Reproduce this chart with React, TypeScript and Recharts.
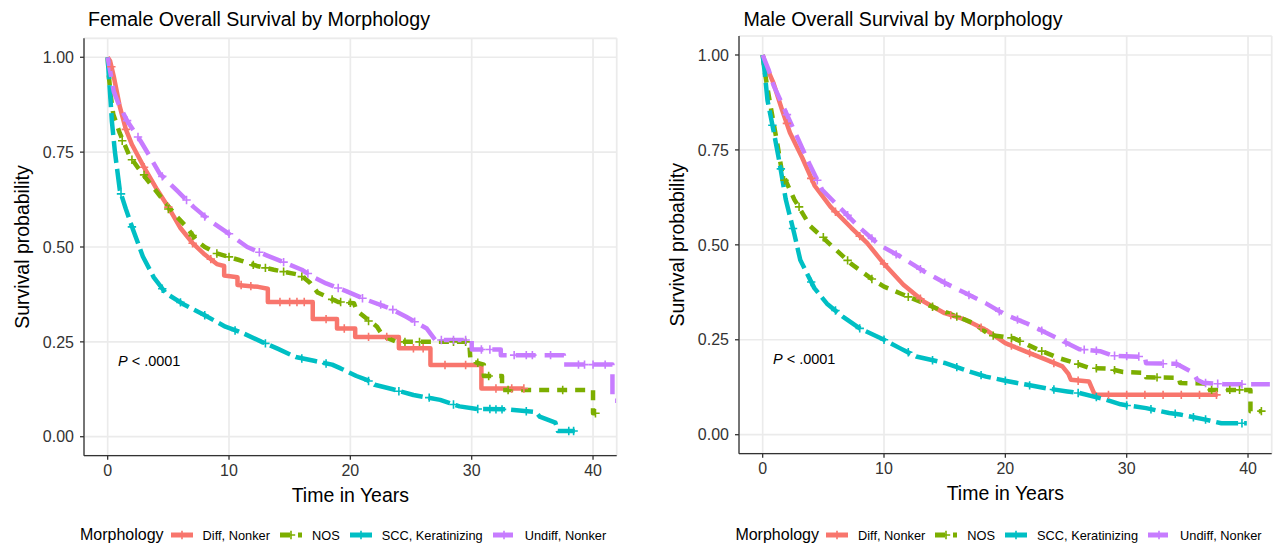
import React from 'react';
import {
  ComposedChart,
  Line,
  XAxis,
  YAxis,
  CartesianGrid,
  ReferenceDot,
  Label
} from 'recharts';

type Pt = [number, number];

const morphologies = ['Diff, Nonker', 'NOS', 'SCC, Keratinizing', 'Undiff, Nonker'];
const colors = ['#F8766D', '#7CAE00', '#00BFC4', '#C77CFF'];
const dashes = [undefined, '10 8', '22 6', '20 9'];

const xTicks = [0, 10, 20, 30, 40];
const xMinorTicks = [5, 15, 25, 35];
const yTicks = [0, 0.25, 0.5, 0.75, 1];
const yMinorTicks = [0.125, 0.375, 0.625, 0.875];

// Female curves: [years, survival]
const femaleDiff: Pt[] = [
  [0, 1], [0.2, 0.99], [0.5, 0.95], [1, 0.87], [1.5, 0.81], [2, 0.77], [3, 0.71], [4, 0.655],
  [5, 0.605], [6, 0.55], [7, 0.51], [8, 0.48], [9, 0.455], [9.6, 0.45], [9.6, 0.425], [10.7, 0.42],
  [10.7, 0.4], [12.4, 0.395], [13.2, 0.39], [13.2, 0.355], [16.9, 0.355], [16.9, 0.31], [18.9, 0.31],
  [18.9, 0.285], [20.4, 0.285], [20.4, 0.263], [24, 0.263], [24, 0.233], [26.6, 0.233], [26.6, 0.189],
  [30.8, 0.189], [30.8, 0.127], [34.3, 0.127]
];
const femaleNos: Pt[] = [
  [0, 1], [0.1, 0.95], [0.25, 0.9], [0.46, 0.85], [1, 0.8], [1.8, 0.74], [2.7, 0.7], [3.5, 0.667],
  [4.6, 0.623], [5.7, 0.58], [6.5, 0.553], [7.3, 0.518], [8, 0.5], [9, 0.483], [10.9, 0.465],
  [12.3, 0.45], [13.7, 0.44], [15.9, 0.426], [16.7, 0.405], [17.3, 0.38], [19, 0.355], [20.3, 0.352],
  [20.5, 0.333], [21, 0.32], [22.2, 0.29], [22.7, 0.265], [23.8, 0.25], [29.8, 0.25], [29.9, 0.2],
  [31, 0.19], [31, 0.16], [32.5, 0.16], [32.5, 0.123], [40, 0.123], [40, 0.062], [40.2, 0.062]
];
const femaleScc: Pt[] = [
  [0, 1], [0.1, 0.95], [0.25, 0.88], [0.35, 0.83], [0.6, 0.75], [1, 0.65], [1.5, 0.6], [2.1, 0.545],
  [2.9, 0.475], [3.8, 0.42], [4.8, 0.378], [6.2, 0.35], [8, 0.32], [9.7, 0.29], [11, 0.275],
  [12.7, 0.25], [14, 0.232], [15.5, 0.21], [17, 0.2], [18.5, 0.19], [19.2, 0.18], [20.5, 0.16],
  [21.4, 0.149], [22, 0.137], [23.5, 0.125], [25.2, 0.11], [27.4, 0.097], [29, 0.08], [30.5, 0.073],
  [33, 0.072], [35.3, 0.065], [35.6, 0.053], [36.9, 0.037], [37.1, 0.015], [38.5, 0.015]
];
const femaleUndiff: Pt[] = [
  [0, 1], [0.5, 0.91], [0.9, 0.877], [1.6, 0.833], [2.7, 0.78], [3.5, 0.737], [4.3, 0.693],
  [5.7, 0.649], [7.1, 0.605], [8.4, 0.57], [9.8, 0.539], [11.5, 0.5], [13.1, 0.478], [14.8, 0.456],
  [16, 0.44], [17, 0.42], [18, 0.404], [19.7, 0.383], [21.4, 0.36], [23.3, 0.338], [24.6, 0.316],
  [26.3, 0.285], [27, 0.255], [30, 0.255], [30, 0.23], [32.4, 0.23], [32.4, 0.215], [37.6, 0.215],
  [37.6, 0.19], [41.6, 0.19], [41.6, 0.095], [41.9, 0.095]
];

// Female censoring marks
const femaleDiffCens: Pt[] = [
  [0.3, 0.975], [1.5, 0.81], [3, 0.71], [5, 0.605], [7, 0.51], [8.5, 0.468], [11, 0.4], [11.8, 0.397],
  [14.2, 0.355], [15, 0.355], [15.6, 0.355], [16.2, 0.355], [18, 0.31], [19.5, 0.285], [21.5, 0.263],
  [23, 0.263], [25.2, 0.233], [26, 0.233], [27.8, 0.189], [29.5, 0.189], [32, 0.127], [33.3, 0.127],
  [34.3, 0.127]
];
const femaleNosCens: Pt[] = [
  [1.2, 0.78], [2, 0.73], [3, 0.69], [5, 0.6], [7, 0.53], [9, 0.483], [10, 0.474], [12, 0.453],
  [13, 0.445], [14.5, 0.435], [16, 0.422], [18.5, 0.362], [19.2, 0.355], [20, 0.353], [21.5, 0.305],
  [24.5, 0.25], [25.7, 0.25], [28.5, 0.25], [29.5, 0.25], [30.5, 0.195], [31.4, 0.16], [33, 0.123],
  [37.5, 0.123], [40.2, 0.062]
];
const femaleSccCens: Pt[] = [
  [1.1, 0.64], [2, 0.553], [4.5, 0.39], [6, 0.354], [8, 0.32], [10.5, 0.28], [13, 0.246], [16, 0.206],
  [18, 0.193], [21.5, 0.147], [24, 0.12], [26.5, 0.103], [28.5, 0.085], [30.5, 0.073], [31.5, 0.073],
  [32, 0.072], [32.5, 0.072], [34.5, 0.067], [38, 0.015], [38.4, 0.015]
];
const femaleUndiffCens: Pt[] = [
  [1.6, 0.833], [2.5, 0.79], [4.5, 0.686], [6.5, 0.624], [8, 0.58], [10, 0.535], [12.5, 0.486],
  [14.5, 0.46], [16.5, 0.43], [19, 0.392], [21, 0.365], [22.5, 0.348], [23.5, 0.335], [25.3, 0.303],
  [27.5, 0.255], [28.5, 0.255], [29.5, 0.255], [30.8, 0.23], [31.5, 0.23], [33.5, 0.215], [34.5, 0.215],
  [35, 0.215], [36.5, 0.215], [38.8, 0.19], [39.3, 0.19], [40, 0.19], [41, 0.19]
];

// Male curves: [years, survival]
const maleDiff: Pt[] = [
  [0, 1], [0.3, 0.97], [0.9, 0.925], [1.6, 0.855], [2.25, 0.795], [3.25, 0.73], [4.3, 0.655],
  [5.6, 0.6], [7.3, 0.545], [8.6, 0.505], [10, 0.45], [11.6, 0.395], [13.3, 0.35], [15, 0.32],
  [16.7, 0.303], [18.4, 0.276], [20, 0.241], [21.7, 0.219], [23.4, 0.197], [24.7, 0.18], [25.2, 0.16],
  [25.4, 0.145], [26.9, 0.14], [27.3, 0.11], [27.5, 0.105], [37.5, 0.105]
];
const maleNos: Pt[] = [
  [0, 1], [0.2, 0.95], [0.57, 0.88], [1.24, 0.76], [1.6, 0.69], [2.6, 0.62], [3.9, 0.55], [5.6, 0.5],
  [7.3, 0.45], [9, 0.41], [10, 0.39], [11.5, 0.37], [13.3, 0.346], [15.3, 0.32], [17.35, 0.294],
  [18.7, 0.263], [20.7, 0.254], [22.7, 0.224], [24.4, 0.202], [25.7, 0.189], [26.9, 0.176],
  [28.5, 0.174], [29.7, 0.165], [31.5, 0.163], [31.6, 0.151], [34.3, 0.15], [34.4, 0.136],
  [36.5, 0.135], [36.6, 0.118], [40.2, 0.118], [40.2, 0.062], [41.1, 0.062]
];
const maleScc: Pt[] = [
  [0, 1], [0.15, 0.96], [0.4, 0.88], [0.9, 0.8], [1.4, 0.715], [1.9, 0.62], [2.6, 0.53], [3.1, 0.46],
  [4.26, 0.386], [5.3, 0.345], [6.6, 0.311], [8, 0.28], [10, 0.25], [11.3, 0.228], [12.65, 0.206],
  [15, 0.189], [16.7, 0.17], [18.4, 0.153], [20, 0.142], [21.7, 0.132], [23.4, 0.122], [25.1, 0.114],
  [26.1, 0.11], [28.3, 0.092], [29.5, 0.08], [31.6, 0.07], [33.5, 0.057], [34.4, 0.053],
  [36.6, 0.039], [37.8, 0.03], [39.9, 0.03]
];
const maleUndiff: Pt[] = [
  [0, 1], [0.5, 0.96], [0.9, 0.92], [1.9, 0.85], [2.9, 0.78], [3.9, 0.71], [4.9, 0.645], [6.6, 0.59],
  [8, 0.545], [9.6, 0.5], [11.3, 0.47], [13.3, 0.43], [15, 0.4], [16.7, 0.373], [18.4, 0.346],
  [20, 0.316], [21.7, 0.294], [23.4, 0.268], [25.1, 0.241], [26.1, 0.225], [27.8, 0.22],
  [28.9, 0.208], [31.5, 0.205], [31.6, 0.188], [34.1, 0.187], [35.5, 0.163], [35.8, 0.145],
  [36.3, 0.137], [38, 0.133], [41.8, 0.133]
];

// Male censoring marks
const maleDiffCens: Pt[] = [
  [2, 0.82], [4, 0.675], [6, 0.587], [8, 0.523], [10, 0.45], [13, 0.358], [15.5, 0.315], [18, 0.282],
  [20.5, 0.235], [22, 0.215], [24, 0.189], [26, 0.142], [28.5, 0.105], [30, 0.105], [31.5, 0.105],
  [33, 0.105], [34.5, 0.105], [36, 0.105], [37.4, 0.105]
];
const maleNosCens: Pt[] = [
  [1.8, 0.67], [3, 0.6], [5, 0.52], [7, 0.459], [9, 0.41], [12, 0.363], [14, 0.337], [16, 0.311],
  [19, 0.261], [20.5, 0.255], [21.2, 0.246], [23, 0.22], [26, 0.186], [27.5, 0.175], [29, 0.17],
  [32.5, 0.151], [37, 0.118], [38.5, 0.118], [39.3, 0.118], [41.1, 0.062]
];
const maleSccCens: Pt[] = [
  [0.8, 0.815], [1.5, 0.7], [2.5, 0.543], [4, 0.402], [6, 0.327], [8, 0.28], [10, 0.25], [12, 0.217],
  [14, 0.196], [16, 0.178], [18, 0.157], [20, 0.142], [22, 0.13], [24, 0.119], [26, 0.11],
  [27.5, 0.099], [30, 0.077], [32, 0.067], [34, 0.055], [35.5, 0.046], [36.5, 0.04], [39.5, 0.03]
];
const maleUndiffCens: Pt[] = [
  [2, 0.843], [4.5, 0.67], [7, 0.578], [9, 0.517], [11, 0.475], [13, 0.436], [15, 0.4], [17, 0.368],
  [19.5, 0.325], [21, 0.303], [23, 0.274], [25, 0.243], [26.5, 0.224], [27.5, 0.221], [29, 0.208],
  [30, 0.207], [31, 0.206], [33, 0.187], [34.1, 0.187], [36.5, 0.136], [37.5, 0.134], [39.5, 0.133]
];

const pValueText = '< .0001';
const pValuePos: Pt = [0.85, 0.2];

const xDomain = [-1.95, 41.95];
const yDomain = [-0.05, 1.05];

const font = '"Liberation Sans", Arial, Helvetica, sans-serif';

const toRows = (pts: Pt[]) => pts.map(([t, s]) => ({ t, s }));

const plusDot = (color: string) => (props: any) => {
  const { cx, cy, index } = props;
  if (cx == null || cy == null) return <g key={index} />;
  return (
    <path
      key={index}
      d={`M${cx - 4.2},${cy}H${cx + 4.2}M${cx},${cy - 4.2}V${cy + 4.2}`}
      stroke={color}
      strokeWidth={1.6}
      fill="none"
    />
  );
};

const PValueLabel = (props: any) => {
  const { viewBox } = props;
  return (
    <text x={viewBox.x} y={viewBox.y} dominantBaseline="central" fontSize={14.5} fill="#000">
      <tspan fontStyle="italic">P</tspan>
      <tspan> {pValueText}</tspan>
    </text>
  );
};

interface PanelProps {
  title: string;
  curves: Pt[][];
  censors: Pt[][];
  left: number;
  plotTop: number;
  plotHeight: number;
}

const Panel: React.FC<PanelProps> = ({ title, curves, censors, left, plotTop, plotHeight }) => {
  const height = plotTop + plotHeight + 50;
  return (
    <div style={{ position: 'absolute', left, top: 0, width: 620, height: 544 }}>
      <div
        style={{
          position: 'absolute',
          left: 88,
          top: 10,
          fontSize: 19.6,
          lineHeight: 1,
          whiteSpace: 'nowrap',
          color: '#000'
        }}
      >
        {title}
      </div>
      <ComposedChart
        width={620}
        height={height}
        margin={{ top: plotTop, right: 3.3, bottom: 0, left: 0 }}
      >
        <CartesianGrid xAxisId="minor" yAxisId="minor" stroke="#EBEBEB" strokeWidth={0.9} />
        <CartesianGrid stroke="#EBEBEB" strokeWidth={1.7} />
        <XAxis
          dataKey="t"
          type="number"
          domain={xDomain}
          ticks={xTicks}
          allowDataOverflow
          axisLine={{ stroke: '#333', strokeWidth: 1.3 }}
          tickLine={{ stroke: '#333', strokeWidth: 1.3 }}
          tickSize={4}
          tickMargin={5}
          tick={{ fill: '#333', fontSize: 16 }}
          height={50}
        >
          <Label value="Time in Years" position="insideBottom" offset={4} style={{ fontSize: 19.5, fill: '#000' }} />
        </XAxis>
        <XAxis
          xAxisId="minor"
          orientation="top"
          dataKey="t"
          type="number"
          domain={xDomain}
          ticks={xMinorTicks}
          allowDataOverflow
          tick={false}
          tickLine={false}
          axisLine={{ stroke: '#333', strokeWidth: 1.3 }}
          height={0}
        />
        <YAxis
          dataKey="s"
          type="number"
          domain={yDomain}
          ticks={yTicks}
          allowDataOverflow
          tickFormatter={(v: number) => v.toFixed(2)}
          axisLine={{ stroke: '#333', strokeWidth: 1.3 }}
          tickLine={{ stroke: '#333', strokeWidth: 1.3 }}
          tickSize={4}
          tickMargin={6}
          tick={{ fill: '#333', fontSize: 16 }}
          width={84}
        >
          <Label
            value="Survival probability"
            angle={-90}
            position="insideLeft"
            offset={22}
            style={{ fontSize: 19.5, fill: '#000', textAnchor: 'middle' }}
          />
        </YAxis>
        <YAxis
          yAxisId="minor"
          orientation="right"
          dataKey="s"
          type="number"
          domain={yDomain}
          ticks={yMinorTicks}
          allowDataOverflow
          tick={false}
          tickLine={false}
          axisLine={{ stroke: '#333', strokeWidth: 1.3 }}
          width={0}
        />
        {curves.map((c, i) => (
          <Line
            key={`curve-${i}`}
            data={toRows(c)}
            dataKey="s"
            type="linear"
            stroke={colors[i]}
            strokeWidth={4.5}
            strokeDasharray={dashes[i]}
            strokeLinejoin="round"
            dot={false}
            activeDot={false}
            isAnimationActive={false}
          />
        ))}
        {censors.map((c, i) => (
          <Line
            key={`cens-${i}`}
            data={toRows(c)}
            dataKey="s"
            stroke="none"
            dot={plusDot(colors[i])}
            activeDot={false}
            isAnimationActive={false}
          />
        ))}
        <ReferenceDot
          x={pValuePos[0]}
          y={pValuePos[1]}
          r={0}
          fill="none"
          stroke="none"
          label={<PValueLabel />}
        />
      </ComposedChart>
      <div
        style={{
          position: 'absolute',
          left: 80,
          top: 525,
          height: 20,
          display: 'flex',
          alignItems: 'center',
          whiteSpace: 'nowrap',
          color: '#000'
        }}
      >
        <span style={{ fontSize: 16, marginRight: 7 }}>Morphology</span>
        {morphologies.map((m, i) => (
          <React.Fragment key={m}>
            <svg width={22} height={12} style={{ marginRight: 10 }}>
              <line x1={0} y1={6} x2={22} y2={6} stroke={colors[i]} strokeWidth={5} strokeDasharray={dashes[i]} />
              <path d="M6.8,6H15.2M11,1.8V10.2" stroke={colors[i]} strokeWidth={1.6} />
            </svg>
            <span style={{ fontSize: 12.8, marginRight: 10 }}>{m}</span>
          </React.Fragment>
        ))}
      </div>
    </div>
  );
};

const App: React.FC = () => {
  return (
    <div
      style={{
        position: 'absolute',
        left: 0,
        top: 0,
        width: 1278,
        height: 544,
        background: '#fff',
        fontFamily: font,
        overflow: 'hidden'
      }}
    >
      <Panel
        title="Female Overall Survival by Morphology"
        curves={[femaleDiff, femaleNos, femaleScc, femaleUndiff]}
        censors={[femaleDiffCens, femaleNosCens, femaleSccCens, femaleUndiffCens]}
        left={0}
        plotTop={38.3}
        plotHeight={417.4}
      />
      <Panel
        title="Male Overall Survival by Morphology"
        curves={[maleDiff, maleNos, maleScc, maleUndiff]}
        censors={[maleDiffCens, maleNosCens, maleSccCens, maleUndiffCens]}
        left={655.4}
        plotTop={36}
        plotHeight={417.7}
      />
    </div>
  );
};

export default App;
